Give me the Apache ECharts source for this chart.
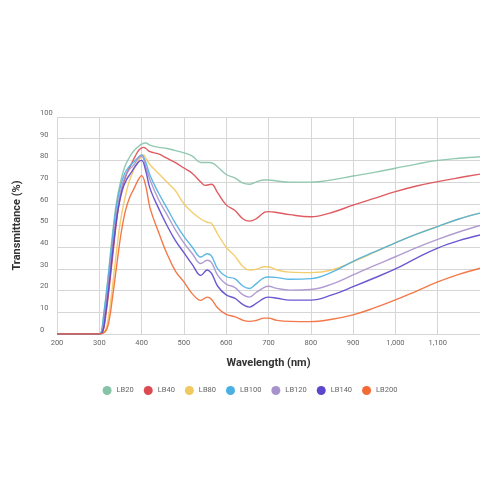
<!DOCTYPE html>
<html>
<head>
<meta charset="utf-8">
<script src="https://cdn.jsdelivr.net/npm/echarts@6/dist/echarts.min.js"></script>
<style>
  html, body { margin: 0; padding: 0; background: #fff; }
  #chart { width: 500px; height: 500px; }
</style>
</head>
<body>
<div id="chart"></div>
<script>
// Transmittance curves, [wavelength nm, transmittance %]
var LB20 = [[200,0],[300,0],[305,1],[310,8],[320,25],[330,44],[340,60],[350,70],[360,77],[370,81],[380,84],[390,86],[400,87.5],[410,88],[420,87],[440,86],[460,85.5],[480,84.5],[500,83.5],[520,82],[540,79],[560,79],[570,78.5],[580,77],[600,73.5],[620,72],[640,69.5],[655,69],[670,70],[690,71],[700,71],[720,70.5],[750,70],[800,70],[850,71],[900,72.8],[950,74.5],[1000,76.4],[1050,78.3],[1100,80],[1150,81],[1200,81.7]];
var LB40 = [[200,0],[300,0],[308,1],[315,8],[325,24],[335,42],[345,58],[355,68],[365,74],[375,78],[385,82],[395,85],[405,86],[410,85.5],[420,84],[440,83],[460,81],[480,79],[500,76.5],[520,74],[540,70],[550,68.5],[565,69],[580,65],[600,59.5],[620,57],[640,53],[655,52],[670,53],[690,56],[700,56.4],[720,56],[750,55],[800,54],[850,56],[900,59.4],[950,62.5],[1000,65.6],[1050,68.2],[1100,70.2],[1150,72],[1200,73.7]];
var LB80 = [[200,0],[300,0],[312,1],[320,6],[330,20],[340,37],[350,52],[360,62],[370,70],[380,75],[390,79],[400,82],[405,82.5],[410,81],[420,78],[440,74],[460,70],[480,66],[500,60],[520,56],[540,53],[555,51.5],[565,51],[580,46],[600,40],[620,36],[640,31],[655,29.5],[670,29.8],[690,31],[700,31],[720,29.5],[750,28.5],[800,28.3],[850,29.5],[900,33.3],[950,37.6],[1000,42],[1050,46],[1100,49.6],[1150,53],[1200,55.7]];
var LB100 = [[200,0],[300,0],[305,1],[310,8],[320,24],[330,42],[340,58],[350,68],[360,74],[370,77],[380,79],[390,81],[400,82.5],[410,79],[420,73],[440,65],[460,58],[480,51],[500,45],[520,40],[540,35.5],[555,37],[565,36],[580,30],[600,26.5],[620,25.5],[640,22],[655,21],[670,23],[690,26],[700,26.3],[720,26],[750,25.2],[800,25.5],[850,28.5],[900,33.5],[950,37.8],[1000,42],[1050,46],[1100,49.5],[1150,53],[1200,55.7]];
var LB120 = [[200,0],[300,0],[306,1],[312,8],[322,24],[332,42],[342,57],[352,67],[362,73],[372,76],[382,78],[392,81],[400,82],[410,77],[420,71],[440,62],[460,55],[480,48],[500,42],[520,37],[540,32.5],[555,34],[565,33],[580,27],[600,23],[620,21.5],[640,18],[655,17],[670,19],[690,21.5],[700,22],[720,21],[750,20.2],[800,20.5],[850,23],[900,27.2],[950,31.5],[1000,35.6],[1050,39.8],[1100,43.6],[1150,47],[1200,50]];
var LB140 = [[200,0],[300,0],[308,1],[314,8],[324,24],[334,42],[344,57],[354,66],[364,71],[374,74],[384,77],[394,79.5],[400,80],[410,75],[420,67],[440,58],[460,50],[480,43],[500,37.5],[520,32],[540,27],[555,29.5],[565,28],[580,22],[600,18],[620,16.5],[640,13.5],[655,12.4],[670,14],[690,16.5],[700,17],[720,16.5],[750,15.6],[800,15.6],[850,18],[900,21.8],[950,25.8],[1000,30],[1050,35],[1100,39.6],[1150,43],[1200,45.6]];
var LB200 = [[200,0],[300,0],[314,1],[322,5],[332,18],[342,33],[352,47],[362,57],[372,63],[382,67],[392,71],[400,73],[410,68],[420,58],[440,47],[460,37],[480,29],[500,24],[520,18.5],[540,15.5],[555,17],[565,16],[580,12],[600,9],[620,8],[640,6.3],[655,5.8],[670,6.2],[690,7.3],[700,7.3],[720,6.3],[750,5.8],[800,5.7],[850,6.8],[900,8.8],[950,12],[1000,15.7],[1050,19.8],[1100,24],[1150,27.5],[1200,30.3]];

var names = ['LB20', 'LB40', 'LB80', 'LB100', 'LB120', 'LB140', 'LB200'];
var colors = ['#87c3a8', '#dc4a52', '#f2c95f', '#4ab0e2', '#a892cc', '#5b47cc', '#f26a36'];
var curves = [LB20, LB40, LB80, LB100, LB120, LB140, LB200];

var chart = echarts.init(document.getElementById('chart'));

var option = {
    animation: false,
    color: colors,
    grid: {
        left: 57,
        right: 20,
        top: 117,
        bottom: 166
    },
    legend: {
        data: names,
        top: 381,
        left: 'center',
        icon: 'circle',
        itemWidth: 9,
        itemHeight: 9,
        itemGap: 10,
        textStyle: {
            fontSize: 7.5,
            color: '#666',
            fontFamily: 'Roboto'
        }
    },
    xAxis: {
        type: 'value',
        min: 200,
        max: 1200,
        interval: 100,
        name: 'Wavelength (nm)',
        nameLocation: 'middle',
        nameGap: 24,
        nameTextStyle: {
            fontSize: 11,
            fontWeight: 'bold',
            color: '#333',
            fontFamily: 'Roboto'
        },
        axisLine: { show: false },
        axisTick: { show: false },
        axisLabel: {
            margin: 5,
            fontSize: 7.5,
            color: '#666',
            fontFamily: 'Roboto',
            formatter: function (v) {
                if (v === 1200) return '';
                return v >= 1000 ? String(v).replace(/(\d)(\d{3})$/, '$1,$2') : String(v);
            }
        },
        splitLine: {
            show: true,
            showMaxLine: false,
            lineStyle: { color: '#d6d6d6', width: 1 }
        }
    },
    yAxis: {
        type: 'value',
        min: 0,
        max: 100,
        interval: 10,
        name: 'Transmittance (%)',
        nameLocation: 'middle',
        nameRotate: 90,
        nameGap: 34,
        nameTextStyle: {
            fontSize: 11,
            fontWeight: 'bold',
            color: '#333',
            fontFamily: 'Roboto'
        },
        axisLine: { show: false },
        axisTick: { show: false },
        axisLabel: {
            align: 'left',
            verticalAlign: 'bottom',
            margin: 17,
            fontSize: 7.5,
            color: '#666',
            fontFamily: 'Roboto'
        },
        splitLine: {
            lineStyle: { color: '#d6d6d6', width: 1 }
        }
    },
    series: names.map(function (n, i) {
        return {
            name: n,
            type: 'line',
            data: curves[i],
            smooth: 0.4,
            showSymbol: false,
            lineStyle: { width: 1.4, color: colors[i], opacity: 0.9 },
            z: 2 + i
        };
    })
};

chart.setOption(option);
</script>
</body>
</html>
